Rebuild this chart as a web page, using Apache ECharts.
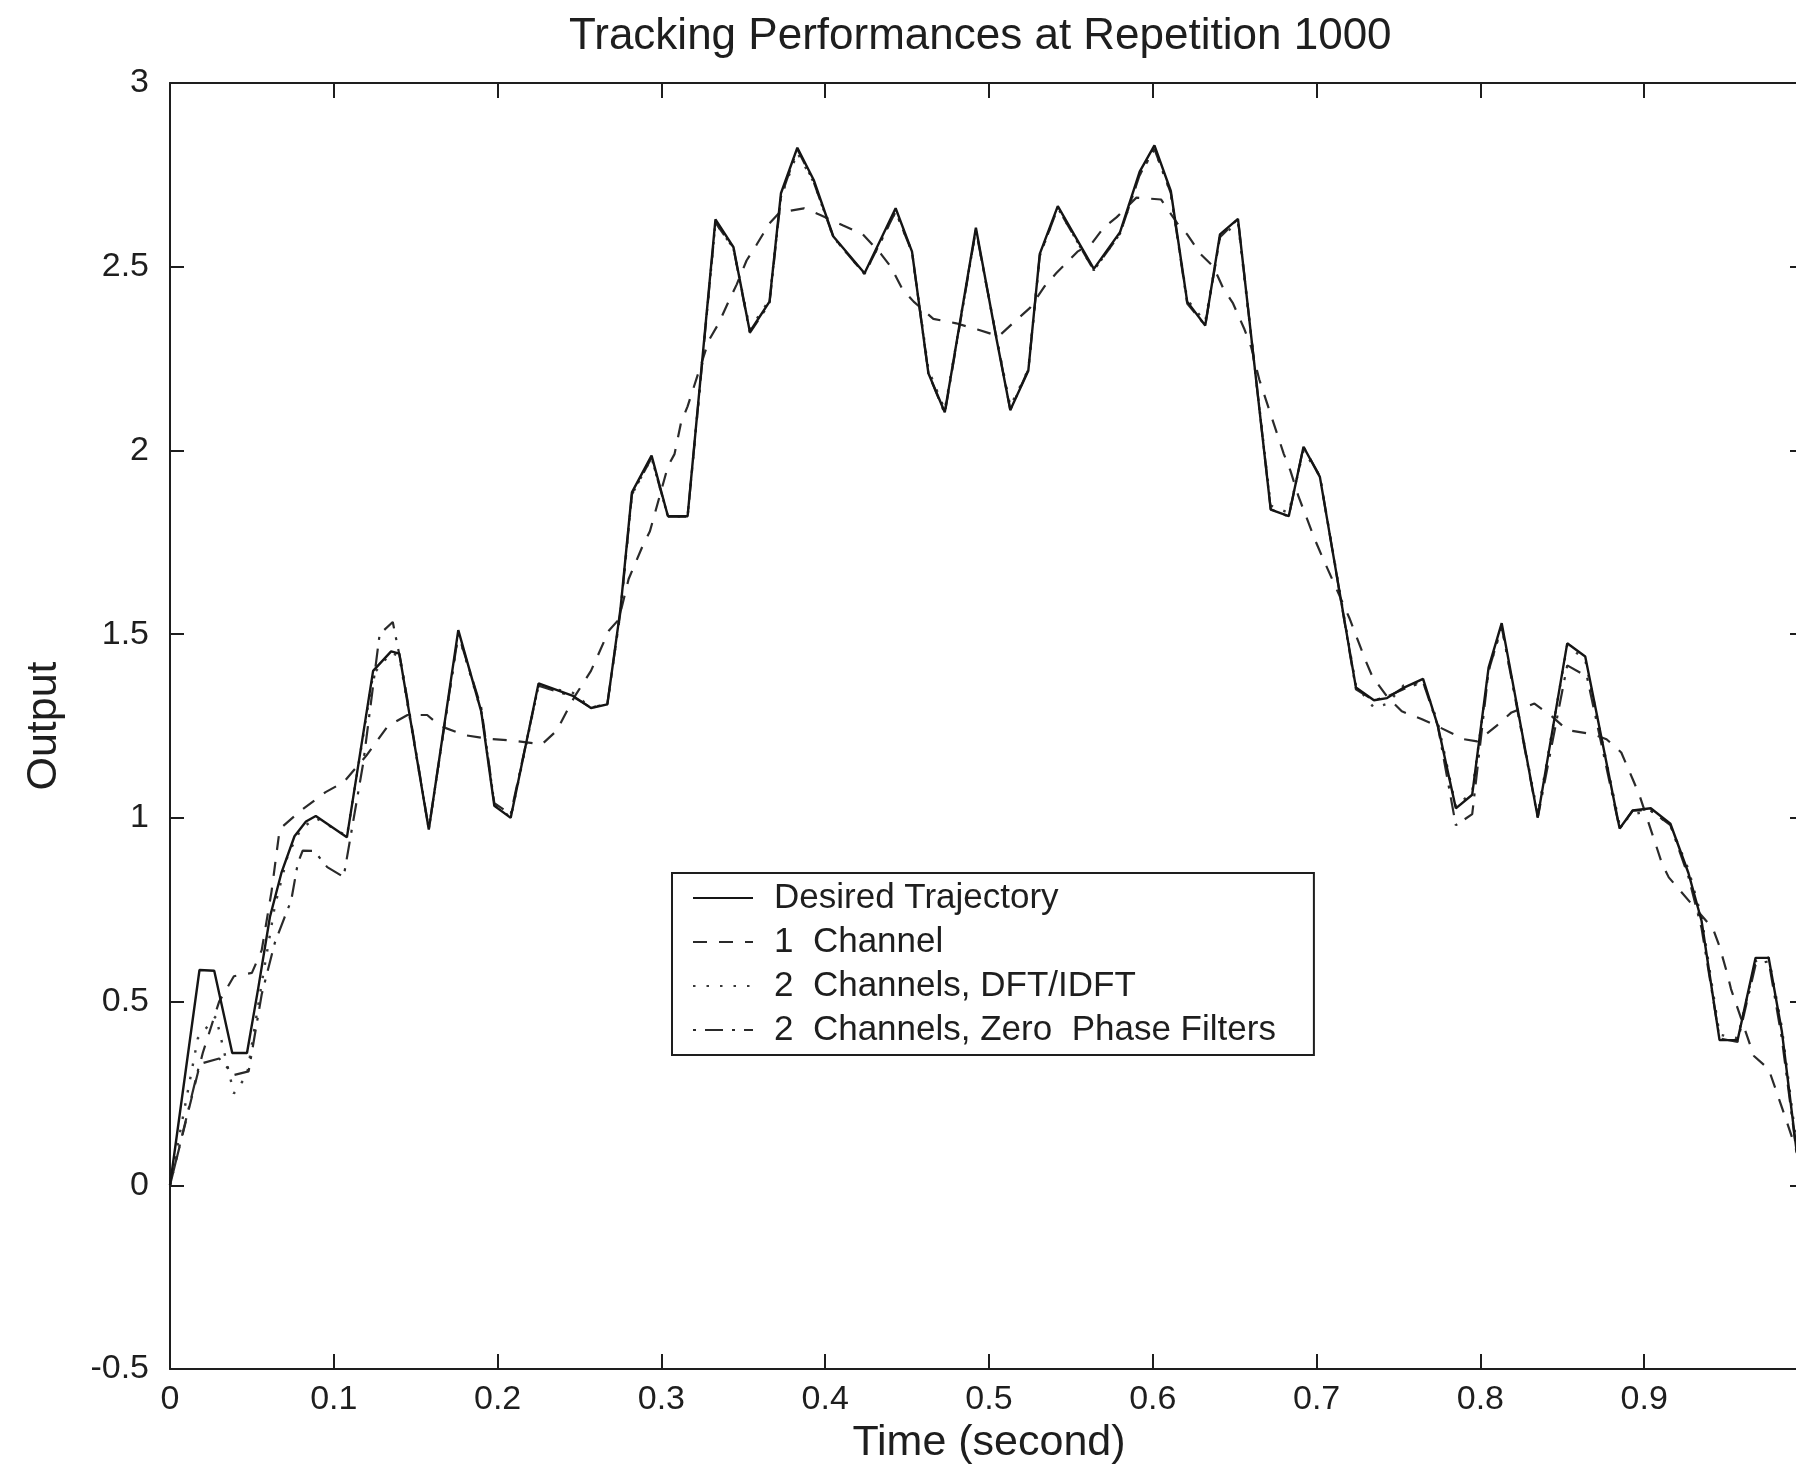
<!DOCTYPE html>
<html>
<head>
<meta charset="utf-8">
<script src="https://cdn.jsdelivr.net/npm/echarts@6/dist/echarts.min.js"></script>
<style>
  html, body { margin: 0; padding: 0; background: #ffffff; }
  #chart { width: 1796px; height: 1471px; }
</style>
</head>
<body>
<div id="chart"></div>
<script>
// ---------- data ----------
var titleText = 'Tracking Performances at Repetition 1000';
var xName = 'Time (second)';
var yName = 'Output';
var seriesNames = ['Desired Trajectory', '1  Channel', '2  Channels, DFT/IDFT', '2  Channels, Zero  Phase Filters'];

var xTicks = [0, 0.1, 0.2, 0.3, 0.4, 0.5, 0.6, 0.7, 0.8, 0.9, 1];
var yTicks = [-0.5, 0, 0.5, 1, 1.5, 2, 2.5, 3];

var desiredT = [0, 0.018, 0.027, 0.038, 0.047, 0.054, 0.061, 0.068, 0.076, 0.083, 0.089, 0.108, 0.124, 0.135, 0.140, 0.158, 0.176, 0.190, 0.198, 0.208, 0.225, 0.246, 0.257, 0.267, 0.275, 0.282, 0.294, 0.304, 0.316, 0.333, 0.344, 0.354, 0.366, 0.373, 0.383, 0.393, 0.405, 0.424, 0.443, 0.453, 0.463, 0.473, 0.492, 0.504, 0.513, 0.524, 0.531, 0.542, 0.564, 0.580, 0.592, 0.601, 0.611, 0.621, 0.632, 0.641, 0.652, 0.672, 0.683, 0.692, 0.702, 0.724, 0.735, 0.743, 0.753, 0.765, 0.774, 0.785, 0.795, 0.805, 0.813, 0.835, 0.853, 0.864, 0.885, 0.893, 0.904, 0.916, 0.927, 0.935, 0.946, 0.957, 0.968, 0.976, 0.984, 0.993, 1.0];
var desiredV = [0, 0.586, 0.584, 0.36, 0.36, 0.54, 0.73, 0.85, 0.95, 0.99, 1.005, 0.947, 1.40, 1.453, 1.447, 0.968, 1.511, 1.29, 1.033, 1.0, 1.366, 1.332, 1.299, 1.309, 1.568, 1.886, 1.986, 1.821, 1.821, 2.629, 2.553, 2.323, 2.405, 2.70, 2.824, 2.736, 2.582, 2.482, 2.659, 2.541, 2.21, 2.104, 2.606, 2.317, 2.11, 2.217, 2.535, 2.665, 2.494, 2.594, 2.759, 2.83, 2.706, 2.405, 2.34, 2.588, 2.63, 1.839, 1.821, 2.01, 1.928, 1.355, 1.32, 1.326, 1.354, 1.378, 1.251, 1.026, 1.063, 1.409, 1.53, 1.002, 1.475, 1.439, 0.971, 1.02, 1.026, 0.984, 0.85, 0.72, 0.395, 0.395, 0.619, 0.619, 0.42, 0.095, 0.0];

var oneChT = [0, 0.010, 0.020, 0.030, 0.039, 0.050, 0.056, 0.062, 0.067, 0.080, 0.095, 0.106, 0.120, 0.133, 0.145, 0.157, 0.165, 0.180, 0.195, 0.210, 0.227, 0.236, 0.247, 0.257, 0.268, 0.274, 0.280, 0.289, 0.293, 0.304, 0.308, 0.312, 0.316, 0.329, 0.335, 0.341, 0.346, 0.352, 0.358, 0.366, 0.372, 0.387, 0.397, 0.411, 0.423, 0.434, 0.440, 0.447, 0.454, 0.466, 0.480, 0.493, 0.506, 0.516, 0.525, 0.534, 0.541, 0.554, 0.563, 0.570, 0.578, 0.590, 0.605, 0.615, 0.621, 0.629, 0.637, 0.643, 0.649, 0.656, 0.660, 0.665, 0.672, 0.680, 0.684, 0.689, 0.692, 0.699, 0.703, 0.720, 0.723, 0.730, 0.734, 0.743, 0.752, 0.764, 0.773, 0.790, 0.798, 0.810, 0.819, 0.833, 0.844, 0.853, 0.869, 0.877, 0.886, 0.893, 0.897, 0.911, 0.915, 0.942, 0.946, 0.951, 0.953, 0.967, 0.976, 0.985, 1.0];
var oneChV = [0, 0.18, 0.36, 0.50, 0.569, 0.578, 0.64, 0.80, 0.97, 1.02, 1.07, 1.097, 1.17, 1.25, 1.28, 1.28, 1.25, 1.225, 1.215, 1.21, 1.20, 1.237, 1.33, 1.40, 1.51, 1.54, 1.65, 1.745, 1.78, 1.957, 1.99, 2.076, 2.12, 2.30, 2.346, 2.405, 2.452, 2.517, 2.559, 2.618, 2.647, 2.659, 2.641, 2.612, 2.588, 2.535, 2.50, 2.44, 2.405, 2.358, 2.346, 2.329, 2.311, 2.352, 2.388, 2.447, 2.482, 2.541, 2.565, 2.606, 2.635, 2.688, 2.683, 2.618, 2.588, 2.535, 2.50, 2.441, 2.40, 2.329, 2.282, 2.193, 2.098, 1.99, 1.945, 1.874, 1.839, 1.757, 1.715, 1.544, 1.509, 1.427, 1.385, 1.33, 1.29, 1.269, 1.251, 1.214, 1.208, 1.251, 1.287, 1.311, 1.275, 1.239, 1.227, 1.214, 1.178, 1.105, 1.063, 0.874, 0.838, 0.698, 0.65, 0.571, 0.534, 0.352, 0.316, 0.20, 0.0];

var dftT = [0, 0.017, 0.028, 0.039, 0.047, 0.056, 0.064, 0.072, 0.080, 0.089, 0.108, 0.124, 0.135, 0.140, 0.158, 0.176, 0.190, 0.198, 0.208, 0.225, 0.246, 0.257, 0.267, 0.275, 0.282, 0.294, 0.304, 0.316, 0.333, 0.344, 0.354, 0.366, 0.373, 0.383, 0.393, 0.405, 0.424, 0.443, 0.453, 0.463, 0.473, 0.492, 0.504, 0.513, 0.524, 0.531, 0.542, 0.564, 0.580, 0.592, 0.601, 0.611, 0.621, 0.632, 0.641, 0.652, 0.672, 0.683, 0.692, 0.702, 0.724, 0.735, 0.743, 0.753, 0.765, 0.774, 0.785, 0.795, 0.805, 0.813, 0.835, 0.853, 0.864, 0.885, 0.893, 0.904, 0.916, 0.927, 0.935, 0.946, 0.957, 0.968, 0.976, 0.984, 0.993, 1.0];
var dftV = [0, 0.40, 0.46, 0.25, 0.30, 0.55, 0.76, 0.90, 0.97, 1.00, 0.95, 1.39, 1.45, 1.44, 0.97, 1.50, 1.29, 1.04, 1.0, 1.36, 1.34, 1.30, 1.31, 1.56, 1.88, 1.98, 1.82, 1.82, 2.62, 2.55, 2.33, 2.41, 2.69, 2.81, 2.73, 2.58, 2.48, 2.65, 2.54, 2.22, 2.11, 2.60, 2.32, 2.12, 2.22, 2.53, 2.66, 2.49, 2.59, 2.75, 2.82, 2.70, 2.41, 2.35, 2.58, 2.62, 1.85, 1.83, 2.00, 1.93, 1.36, 1.30, 1.31, 1.36, 1.37, 1.26, 1.03, 1.07, 1.40, 1.52, 1.01, 1.47, 1.43, 0.98, 1.01, 1.02, 0.98, 0.86, 0.73, 0.41, 0.40, 0.61, 0.62, 0.43, 0.11, 0.0];

var zpfT = [0, 0.018, 0.030, 0.039, 0.048, 0.056, 0.064, 0.070, 0.074, 0.078, 0.081, 0.088, 0.096, 0.106, 0.118, 0.128, 0.136, 0.142, 0.158, 0.176, 0.190, 0.198, 0.208, 0.225, 0.246, 0.257, 0.267, 0.275, 0.282, 0.294, 0.304, 0.316, 0.333, 0.344, 0.354, 0.366, 0.373, 0.383, 0.393, 0.405, 0.424, 0.443, 0.453, 0.463, 0.473, 0.492, 0.504, 0.513, 0.524, 0.531, 0.542, 0.564, 0.580, 0.592, 0.601, 0.611, 0.621, 0.632, 0.641, 0.652, 0.672, 0.683, 0.692, 0.702, 0.724, 0.735, 0.743, 0.753, 0.765, 0.774, 0.785, 0.795, 0.805, 0.813, 0.835, 0.853, 0.865, 0.885, 0.893, 0.904, 0.916, 0.927, 0.935, 0.946, 0.957, 0.968, 0.976, 0.984, 0.993, 1.0];
var zpfV = [0, 0.33, 0.345, 0.30, 0.31, 0.52, 0.66, 0.73, 0.775, 0.876, 0.911, 0.91, 0.866, 0.839, 1.15, 1.50, 1.533, 1.40, 0.97, 1.50, 1.30, 1.04, 1.01, 1.36, 1.33, 1.30, 1.31, 1.56, 1.88, 1.98, 1.82, 1.82, 2.62, 2.55, 2.32, 2.40, 2.69, 2.82, 2.73, 2.58, 2.48, 2.65, 2.54, 2.21, 2.10, 2.60, 2.32, 2.11, 2.22, 2.53, 2.66, 2.49, 2.59, 2.75, 2.82, 2.70, 2.40, 2.34, 2.58, 2.63, 1.84, 1.82, 2.01, 1.93, 1.35, 1.32, 1.33, 1.35, 1.37, 1.25, 0.98, 1.01, 1.40, 1.52, 1.00, 1.415, 1.385, 0.97, 1.02, 1.02, 0.98, 0.84, 0.70, 0.40, 0.39, 0.60, 0.61, 0.40, 0.09, 0.0];

// ---------- chart ----------
function pairs(ts, vs) {
  var out = [];
  for (var i = 0; i < ts.length; i++) out.push([ts[i], vs[i]]);
  return out;
}
var FONT = "'Liberation Sans', Arial, Helvetica, sans-serif";
var INK = '#1e1e1e';
function fmt(v) { return String(Number(v.toFixed(2))); }

var chart = echarts.init(document.getElementById('chart'), null, { renderer: 'canvas' });

var axisLineStyle = { color: INK, width: 2 };
var option = {
  backgroundColor: '#ffffff',
  animation: false,
  title: {
    text: titleText,
    left: 564,
    top: 10,
    textStyle: { fontFamily: FONT, fontSize: 44, fontWeight: 'normal', color: INK }
  },
  grid: { left: 170, top: 83, width: 1638, height: 1286, containLabel: false, outerBoundsMode: 'none' },
  legend: {
    orient: 'vertical',
    left: 672,
    top: 873,
    padding: [7, 38, 7, 20],
    itemWidth: 60,
    itemHeight: 20,
    itemGap: 8,
    selectedMode: false,
    borderColor: INK,
    borderWidth: 2,
    backgroundColor: '#ffffff',
    itemStyle: { opacity: 0 },
    textStyle: { fontFamily: FONT, fontSize: 35, color: INK, lineHeight: 36, padding: [0, 0, 0, 16] },
    data: seriesNames
  },
  xAxis: [{
    type: 'value', position: 'bottom', min: 0, max: 1, interval: 0.1,
    name: xName, nameLocation: 'middle', nameGap: 50,
    nameTextStyle: { fontFamily: FONT, fontSize: 43, color: INK },
    axisLine: { show: true, onZero: false, lineStyle: axisLineStyle },
    axisTick: { show: true, inside: true, length: 15, lineStyle: { color: INK, width: 2 } },
    axisLabel: { show: true, margin: 14, fontFamily: FONT, fontSize: 34, color: INK, formatter: fmt },
    splitLine: { show: false }
  }, {
    type: 'value', position: 'top', min: 0, max: 1, interval: 0.1,
    axisLine: { show: true, onZero: false, lineStyle: axisLineStyle },
    axisTick: { show: true, inside: true, length: 15, lineStyle: { color: INK, width: 2 } },
    axisLabel: { show: false },
    splitLine: { show: false }
  }],
  yAxis: [{
    type: 'value', position: 'left', min: -0.5, max: 3, interval: 0.5,
    name: yName, nameLocation: 'middle', nameGap: 104, nameRotate: 90,
    nameTextStyle: { fontFamily: FONT, fontSize: 43, color: INK },
    axisLine: { show: true, onZero: false, lineStyle: axisLineStyle },
    axisTick: { show: true, inside: true, length: 14, lineStyle: { color: INK, width: 2 } },
    axisLabel: { show: true, margin: 21, fontFamily: FONT, fontSize: 34, color: INK, formatter: fmt },
    splitLine: { show: false }
  }, {
    type: 'value', position: 'right', min: -0.5, max: 3, interval: 0.5,
    axisLine: { show: true, onZero: false, lineStyle: axisLineStyle },
    axisTick: { show: true, inside: true, length: 18, lineStyle: { color: INK, width: 2 } },
    axisLabel: { show: false },
    splitLine: { show: false }
  }],
  series: [{
    name: seriesNames[0], type: 'line', xAxisIndex: 0, yAxisIndex: 0,
    showSymbol: false, symbol: 'none', smooth: false, z: 4,
    lineStyle: { color: '#151515', width: 2.4, type: 'solid' },
    itemStyle: { color: '#151515' },
    data: pairs(desiredT, desiredV)
  }, {
    name: seriesNames[1], type: 'line', xAxisIndex: 0, yAxisIndex: 0,
    showSymbol: false, symbol: 'none', smooth: false, z: 3,
    lineStyle: { color: '#2a2a2a', width: 2.2, type: [14, 12] },
    itemStyle: { color: '#2a2a2a' },
    data: pairs(oneChT, oneChV)
  }, {
    name: seriesNames[2], type: 'line', xAxisIndex: 0, yAxisIndex: 0,
    showSymbol: false, symbol: 'none', smooth: false, z: 2,
    lineStyle: { color: '#3a3a3a', width: 2.4, type: [2.5, 11] },
    itemStyle: { color: '#3a3a3a' },
    data: pairs(dftT, dftV)
  }, {
    name: seriesNames[3], type: 'line', xAxisIndex: 0, yAxisIndex: 0,
    showSymbol: false, symbol: 'none', smooth: false, z: 2,
    lineStyle: { color: '#2a2a2a', width: 2.2, type: [3, 9, 18, 9] },
    itemStyle: { color: '#2a2a2a' },
    data: pairs(zpfT, zpfV)
  }]
};
chart.setOption(option);
</script>
</body>
</html>
